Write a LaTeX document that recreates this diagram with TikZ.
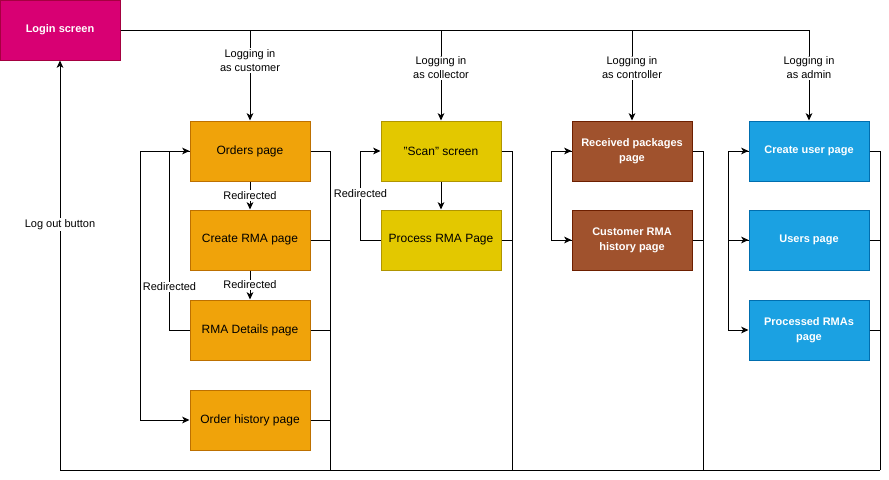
\documentclass[tikz,border=0pt]{standalone}
\usepackage{fontspec}
\setmainfont{Liberation Sans}
\usetikzlibrary{arrows.meta}
\usetikzlibrary{calc}

\definecolor{loginfill}{HTML}{D80073}
\definecolor{loginline}{HTML}{A50040}
\definecolor{custfill}{HTML}{F0A30A}
\definecolor{custline}{HTML}{BD7000}
\definecolor{collfill}{HTML}{E3C800}
\definecolor{collline}{HTML}{B09500}
\definecolor{ctrlfill}{HTML}{A0522D}
\definecolor{ctrlline}{HTML}{6D1F00}
\definecolor{admfill}{HTML}{1BA1E2}
\definecolor{admline}{HTML}{006EAF}

\begin{document}
\begin{tikzpicture}[x=0.75pt,y=-0.75pt,line width=0.75pt,
  page/.style={draw, minimum width=90pt, minimum height=45pt, inner sep=1pt,
    align=center, font=\fontsize{9}{11.25}\selectfont},
  whitepage/.style={page, text=white, font=\fontsize{8.25}{11.25}\selectfont\bfseries},
  custpage/.style={page, fill=custfill, draw=custline},
  collpage/.style={page, fill=collfill, draw=collline},
  ctrlpage/.style={whitepage, fill=ctrlfill, draw=ctrlline},
  admpage/.style={whitepage, fill=admfill, draw=admline},
  flow/.style={-{Stealth[length=5.5pt,width=5pt,inset=1.5pt]}},
  lbl/.style={fill=white, inner sep=1pt, align=center,
    font=\fontsize{8.25}{10.5}\selectfont}]
\useasboundingbox (0,0) rectangle (889,479);

\node[whitepage, fill=loginfill, draw=loginline] (login) at (60,30) {Login screen};

\node[custpage] (orders) at (250,151) {Orders page};
\node[custpage] (crma) at (250,240) {Create RMA page};
\node[custpage] (rmad) at (250,330) {RMA Details page};
\node[custpage] (ohist) at (250,420) {Order history page};

\node[collpage] (scan) at (441,151) {"Scan" screen};
\node[collpage] (prma) at (441,240) {Process RMA Page};

\node[ctrlpage] (recv) at (632,151) {Received packages\\page};
\node[ctrlpage] (chist) at (632,240) {Customer RMA\\history page};

\node[admpage] (cuser) at (809,151) {Create user page};
\node[admpage] (users) at (809,240) {Users page};
\node[admpage] (prmas) at (809,330) {Processed RMAs\\page};

\coordinate (cbus) at (330,470);
\coordinate (sbus) at (512,470);
\coordinate (rbus) at (703,470);
\coordinate (abus) at (880,470);

\draw[flow] (login.east) -| (orders.north) node[lbl, pos=0.67] {Logging in\\as customer};
\draw[flow] (login.east) -| (scan.north) node[lbl, pos=0.71] {Logging in\\as collector};
\draw[flow] (login.east) -| (recv.north) node[lbl, pos=0.71] {Logging in\\as controller};
\draw[flow] (login.east) -| (cuser.north) node[lbl, pos=0.71] {Logging in\\as admin};

\draw[flow] (orders) -- (crma) node[lbl, midway] {Redirected};
\draw[flow] (crma) -- (rmad) node[lbl, midway] {Redirected};
\draw[flow] (rmad.west) -- ++(-20,0) |- (orders.west) node[lbl, pos=0.12] {Redirected};
\draw[flow] (orders.west) -- ++(-49,0) |- (ohist.west);

\draw[flow] (scan) -- (prma);
\draw[flow] (prma.west) -- ++(-20,0) |- (scan.west) node[lbl, pos=0.26] {Redirected};

\draw[flow] (recv.west) -- ++(-20,0) |- (chist.west);
\draw[flow] (chist.west) -- ++(-20,0) |- (recv.west);

\draw[flow] (users.west) -- ++(-20,0) |- (cuser.west);
\draw[flow] (cuser.west) -- ++(-20,0) |- (users.west);
\draw[flow] (cuser.west) -- ++(-20,0) |- (prmas.west);

\foreach \p/\b in {orders/cbus, crma/cbus, rmad/cbus, ohist/cbus,
    scan/sbus, prma/sbus, recv/rbus, chist/rbus,
    cuser/abus, users/abus, prmas/abus}
  \draw (\p.east) -| (\b);
\draw[flow] (abus) -| (login.south) node[lbl, pos=0.8] {Log out button};

\end{tikzpicture}
\end{document}
